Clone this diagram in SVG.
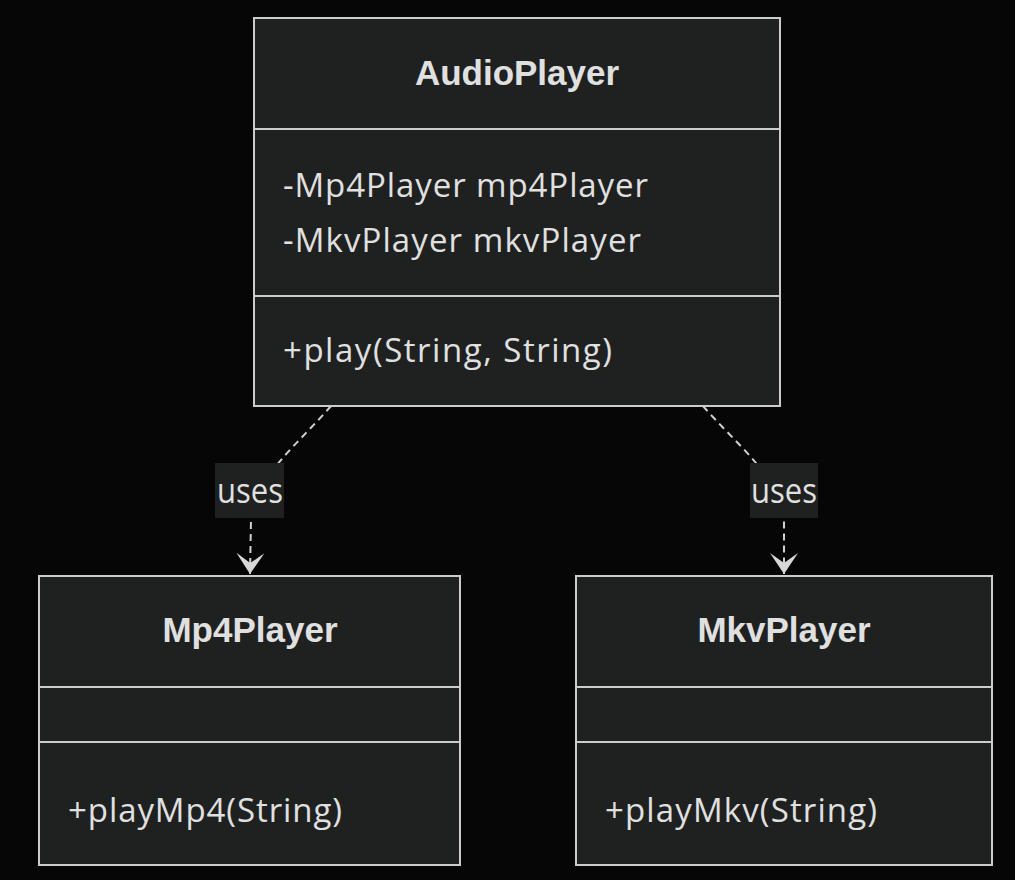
<svg xmlns="http://www.w3.org/2000/svg" width="1015" height="880" viewBox="0 0 1015 880">
<style>
.box{fill:#1f2020;stroke:#cccccc;stroke-width:2}
.div{stroke:#cccccc;stroke-width:2}
.title{font-family:"Liberation Sans",Arial,sans-serif;font-weight:bold;font-size:35px;fill:#e0e0e0;text-anchor:middle}
.mem{font-family:"Open Sans","Liberation Sans",sans-serif;font-size:33px;fill:#e0e0e0}
.lbl{font-family:"Open Sans","Liberation Sans",sans-serif;font-size:35px;fill:#e0e0e0}
.lblbg{fill:#1f2020}
.edge{fill:none;stroke:#d0d0d0;stroke-width:2;stroke-dasharray:7 5}
</style>
<defs>
<marker id="dep" markerUnits="userSpaceOnUse" markerWidth="24" markerHeight="30" refX="21" refY="14" orient="auto">
<path d="M0,0 L21,14 L0,28 L10,14 Z" fill="#d8d8d8"/>
</marker>
</defs>
<rect width="1015" height="880" fill="#060606"/>
<g id="connectors">
<path class="edge" d="M331,406 C300,442 252,480 251,520 L250,574" marker-end="url(#dep)"/>
<path class="edge" d="M703,406 C734,442 783,480 784,520 L784,574" marker-end="url(#dep)"/>
<g id="label-uses-1">
<rect class="lblbg" x="215" y="463" width="69" height="55"/>
<text class="lbl" x="217" y="503" textLength="66" lengthAdjust="spacingAndGlyphs">uses</text>
</g>
<g id="label-uses-2">
<rect class="lblbg" x="750" y="463" width="68" height="55"/>
<text class="lbl" x="751" y="503" textLength="66" lengthAdjust="spacingAndGlyphs">uses</text>
</g>
</g>
<g id="AudioPlayer">
<rect class="box" x="254" y="18" width="526" height="388"/>
<line class="div" x1="254" y1="129" x2="780" y2="129"/>
<line class="div" x1="254" y1="296" x2="780" y2="296"/>
<text class="title" x="517" y="85">AudioPlayer</text>
<text class="mem" x="283" y="197" textLength="365" lengthAdjust="spacing">-Mp4Player mp4Player</text>
<text class="mem" x="283" y="252" textLength="358" lengthAdjust="spacing">-MkvPlayer mkvPlayer</text>
<text class="mem" x="283" y="362" textLength="329" lengthAdjust="spacing">+play(String, String)</text>
</g>
<g id="Mp4Player">
<rect class="box" x="39" y="576" width="421" height="289"/>
<line class="div" x1="39" y1="687" x2="460" y2="687"/>
<line class="div" x1="39" y1="742" x2="460" y2="742"/>
<text class="title" x="250" y="642">Mp4Player</text>
<text class="mem" x="68" y="822" textLength="274" lengthAdjust="spacing">+playMp4(String)</text>
</g>
<g id="MkvPlayer">
<rect class="box" x="576" y="576" width="416" height="289"/>
<line class="div" x1="576" y1="687" x2="992" y2="687"/>
<line class="div" x1="576" y1="742" x2="992" y2="742"/>
<text class="title" x="784" y="642">MkvPlayer</text>
<text class="mem" x="605" y="822" textLength="272" lengthAdjust="spacing">+playMkv(String)</text>
</g>
</svg>
